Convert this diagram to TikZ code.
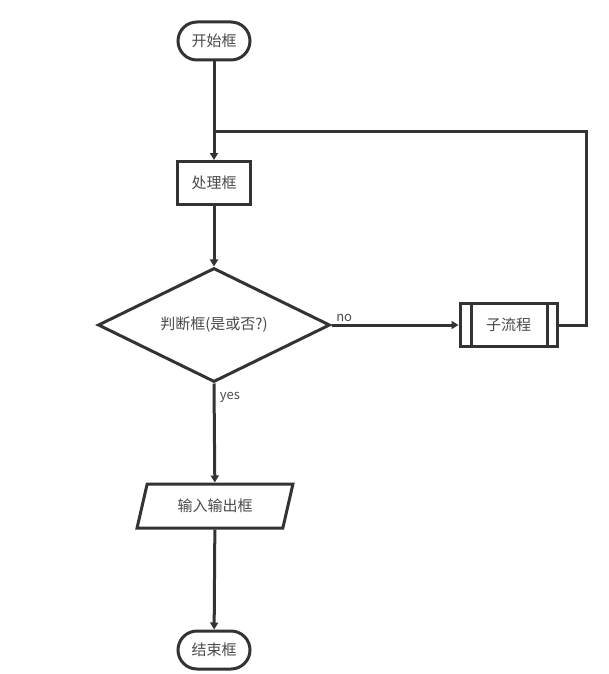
\documentclass[tikz,border=0pt]{standalone}
\usepackage{xcolor}
\usepackage{fontspec}
\newfontfamily\cjk{Noto Sans CJK SC}
\usepackage{tikz}
\usetikzlibrary{positioning,shapes.geometric,arrows.meta}
\definecolor{linegray}{HTML}{333333}
\definecolor{textgray}{HTML}{4A4A4A}

\begin{document}
\begin{tikzpicture}[x=1pt, y=-1pt,
		every node/.style={font=\cjk\fontsize{15}{17}\selectfont, text=textgray},
		shape box/.style={draw=linegray, line width=3pt, fill=white, inner sep=0pt},
		terminal/.style={shape box, rectangle, rounded corners=19pt, minimum width=72pt, minimum height=38pt},
		process/.style={shape box, rectangle, minimum width=73pt, minimum height=43pt},
		decision/.style={shape box, diamond, aspect=2, minimum width=232pt, minimum height=114pt},
		inout/.style={shape box, trapezium, trapezium stretches=true, trapezium left angle=68, trapezium right angle=112, minimum width=156pt, minimum height=44pt},
		flow/.style={draw=linegray, line width=3pt, -{Triangle[length=7pt, width=8pt]}},
		branch label/.style={font=\cjk\fontsize{13}{15}\selectfont}]
		\useasboundingbox[fill=white] (0, 0) rectangle (609, 674);

		% 节点
		\node[terminal] (start) at (214, 41) {开始框};
		\node[process] (proc) at (214, 183) {处理框};
		\node[decision] (decide) at (214, 325) {判断框(是或否?)};
		\node[process, minimum width=97pt] (sub) at (508.5, 325) {子流程};
		\node[inout] (io) at (215, 506) {输入输出框};
		\node[terminal] (stop) at (214, 650) {结束框};

		% 子流程两侧竖线
		\draw[linegray, line width=3pt] ([xshift=13pt]sub.north west) -- ([xshift=13pt]sub.south west);
		\draw[linegray, line width=3pt] ([xshift=-11pt]sub.north east) -- ([xshift=-11pt]sub.south east);

		% 连线
		\coordinate (join) at (214, 131);
		\draw[flow] (start) -- (proc);
		\draw[flow] (proc) -- (decide);
		\draw[flow] (decide.east) -- node[branch label, pos=0.1, above, yshift=-1pt] {no} (sub);
		\draw[flow] (decide.south) -- node[branch label, pos=0.14, right, xshift=1pt] {yes} (io);
		\draw[flow] (io) -- (stop);

		% 回路
		\draw[linegray, line width=3pt] (sub.east) -- ++(28, 0) |- (join);
	\end{tikzpicture}
\end{document}
